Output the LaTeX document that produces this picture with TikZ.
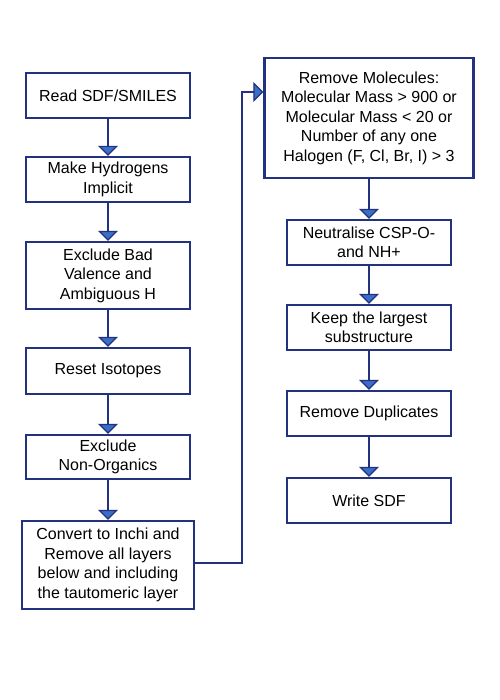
\documentclass[tikz,border=0pt]{standalone}
\usepackage{fontspec}
\setmainfont{Liberation Sans}
\usetikzlibrary{arrows.meta}
\definecolor{navy}{HTML}{22327E}
\definecolor{arrowfill}{HTML}{3B6FC7}
\begin{document}
\begin{tikzpicture}[x=1bp,y=-1bp,
  box/.style={draw=navy,line width=2.4bp,fill=white,align=center,inner sep=2bp,
    font=\fontsize{16bp}{19.5bp}\selectfont,text=black},
  flow/.style={draw=navy,line width=2.4bp,
    -{Triangle[width=20bp,length=10bp,fill=arrowfill,line width=1.2bp]}}]
\useasboundingbox[fill=white] (0,0) rectangle (500,700);
\node[box,minimum width=164bp,minimum height=45bp] (b1) at (108,95.5) {Read SDF/SMILES};
\node[box,minimum width=164bp,minimum height=45bp] (b2) at (108,179.5) {Make Hydrogens\\Implicit};
\node[box,minimum width=164bp,minimum height=67bp] (b3) at (108,275.5) {Exclude Bad\\Valence and\\Ambiguous H};
\node[box,minimum width=164bp,minimum height=46bp] (b4) at (108,371) {Reset Isotopes};
\node[box,minimum width=164bp,minimum height=44bp] (b5) at (108,457) {Exclude\\Non-Organics};
\node[box,minimum width=172bp,minimum height=88bp] (b6) at (108,565) {Convert to Inchi and\\Remove all layers\\below and including\\the tautomeric layer};
\node[box,minimum width=209bp,minimum height=120bp] (r1) at (369,118) {Remove Molecules:\\Molecular Mass > 900 or\\Molecular Mass < 20 or\\Number of any one\\Halogen (F, Cl, Br, I) > 3};
\node[box,minimum width=164bp,minimum height=45bp] (r2) at (369,242.5) {Neutralise CSP-O-\\and NH+};
\node[box,minimum width=164bp,minimum height=45bp] (r3) at (369,327.5) {Keep the largest\\substructure};
\node[box,minimum width=164bp,minimum height=45bp] (r4) at (369,413.5) {Remove Duplicates};
\node[box,minimum width=164bp,minimum height=45bp] (r5) at (369,500.5) {Write SDF};
\draw[flow] (b1) -- (b2);
\draw[flow] (b2) -- (b3);
\draw[flow] (b3) -- (b4);
\draw[flow] (b4) -- (b5);
\draw[flow] (b5) -- (b6);
\coordinate (c1) at (242,563);
\coordinate (c2) at (242,92);
\draw[flow] (b6.east |- c1) -- (c1) -- (c2) -- (r1.west |- c2);
\draw[flow] (r1) -- (r2);
\draw[flow] (r2) -- (r3);
\draw[flow] (r3) -- (r4);
\draw[flow] (r4) -- (r5);
\end{tikzpicture}
\end{document}
